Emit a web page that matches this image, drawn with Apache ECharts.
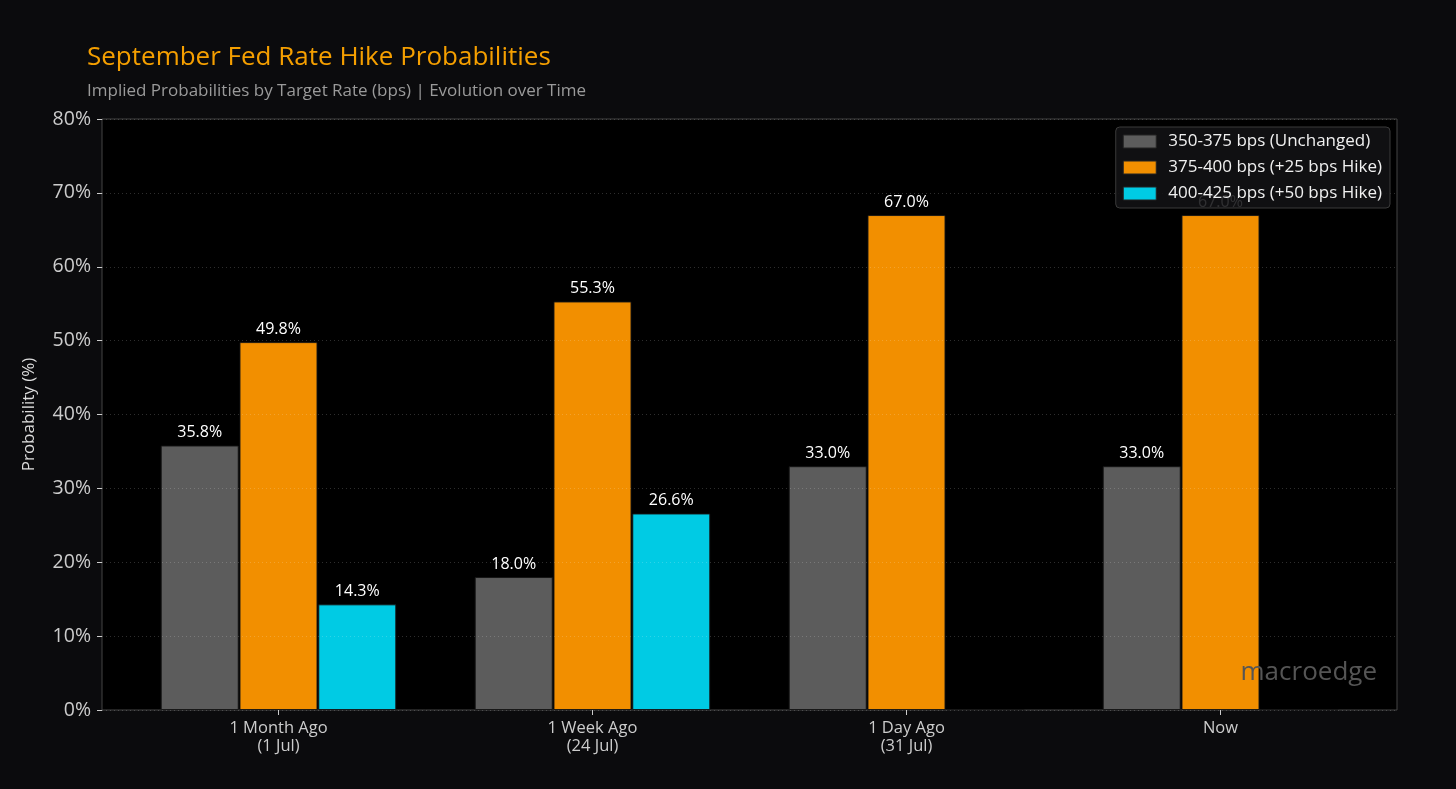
<!DOCTYPE html>
<html>
<head>
<meta charset="utf-8">
<title>September Fed Rate Hike Probabilities</title>
<script src="https://cdn.jsdelivr.net/npm/echarts@6/dist/echarts.min.js"></script>
<style>
  html, body { margin: 0; padding: 0; background: #0b0b0d; }
  #chart { width: 1456px; height: 789px; }
</style>
</head>
<body>
<div id="chart"></div>
<script>
// data
var categories = ['1 Month Ago\n(1 Jul)', '1 Week Ago\n(24 Jul)', '1 Day Ago\n(31 Jul)', 'Now'];
var seriesNames = ['350-375 bps (Unchanged)', '375-400 bps (+25 bps Hike)', '400-425 bps (+50 bps Hike)'];
var unchanged = [35.8, 18.0, 33.0, 33.0];
var hike25 = [49.8, 55.3, 67.0, 67.0];
var hike50 = [14.3, 26.6, 0, 0];
var yTicks = [0, 10, 20, 30, 40, 50, 60, 70, 80];

var colors = ['#5c5c5c', '#f28f00', '#00cbe4'];
var font = '"Open Sans", Roboto, sans-serif';

function barSeries(name, data, color) {
  return {
    name: name,
    type: 'bar',
    xAxisIndex: 1,
    yAxisIndex: 1,
    data: data,
    barWidth: 78,
    barGap: '1%',
    z: 2,
    itemStyle: { color: color, borderColor: 'rgba(20,20,20,0.9)', borderWidth: 1 },
    label: {
      show: true,
      position: 'top',
      distance: 5,
      color: '#ffffff',
      fontSize: 16,
      fontFamily: font,
      formatter: function (p) { return p.value ? p.value.toFixed(1) + '%' : ''; }
    }
  };
}

var chart = echarts.init(document.getElementById('chart'));
chart.setOption({
  backgroundColor: '#0b0b0d',
  animation: false,
  textStyle: { fontFamily: font },
  title: {
    text: 'September Fed Rate Hike Probabilities',
    subtext: 'Implied Probabilities by Target Rate (bps) | Evolution over Time',
    left: 82,
    top: 40,
    itemGap: 12,
    textStyle: { color: '#f59f00', fontSize: 26, fontWeight: 'normal', fontFamily: font },
    subtextStyle: { color: '#9a9a9a', fontSize: 17, fontFamily: font }
  },
  legend: {
    orient: 'vertical',
    right: 66,
    top: 127,
    data: seriesNames,
    icon: 'rect',
    backgroundColor: 'rgba(18,18,20,0.88)',
    borderColor: '#3a3a3a',
    borderWidth: 1,
    borderRadius: 4,
    padding: [6, 8, 6, 7],
    itemWidth: 33,
    itemHeight: 13,
    itemGap: 9,
    z: 10,
    itemStyle: { borderColor: '#222', borderWidth: 1 },
    textStyle: { color: '#f0f0f0', fontSize: 17, fontFamily: font, padding: [0, 0, 0, 7] }
  },
  grid: [
    { left: 102, right: 59, top: 119, bottom: 79, show: true, backgroundColor: '#000000', borderColor: '#444444', borderWidth: 1 },
    { left: 121.5, right: 78.5, top: 119, bottom: 79 }
  ],
  xAxis: [
    { type: 'value', gridIndex: 0, min: 0, max: 1, show: false },
    {
      type: 'category', gridIndex: 1, data: categories,
      axisLine: { show: false },
      axisTick: { show: true, alignWithLabel: true, length: 5, lineStyle: { color: '#cccccc' } },
      axisLabel: { color: '#cccccc', fontSize: 16.5, lineHeight: 18, margin: 9, fontFamily: font }
    }
  ],
  yAxis: [
    {
      type: 'value', gridIndex: 0, min: 0, max: 80, interval: 10, z: 5,
      name: 'Probability (%)',
      nameLocation: 'middle',
      nameGap: 64,
      nameTextStyle: { color: '#dddddd', fontSize: 17, fontFamily: font },
      axisLine: { show: false },
      axisTick: { show: true, length: 5, lineStyle: { color: '#cccccc' } },
      axisLabel: {
        color: '#cccccc', fontSize: 19.5, margin: 11, fontFamily: font,
        formatter: function (v) { return yTicks.indexOf(v) >= 0 ? v + '%' : ''; }
      },
      splitLine: { show: true, lineStyle: { color: 'rgba(255,255,255,0.18)', type: [1, 3], width: 1 } }
    },
    { type: 'value', gridIndex: 1, min: 0, max: 80, show: false, splitLine: { show: false } }
  ],
  graphic: [{
    type: 'text',
    right: 79,
    top: 660,
    z: 20,
    style: { text: 'macroedge', fill: '#555555', fontSize: 26, fontFamily: font }
  }],
  series: [
    barSeries(seriesNames[0], unchanged, colors[0]),
    barSeries(seriesNames[1], hike25, colors[1]),
    barSeries(seriesNames[2], hike50, colors[2])
  ]
});
</script>
</body>
</html>
